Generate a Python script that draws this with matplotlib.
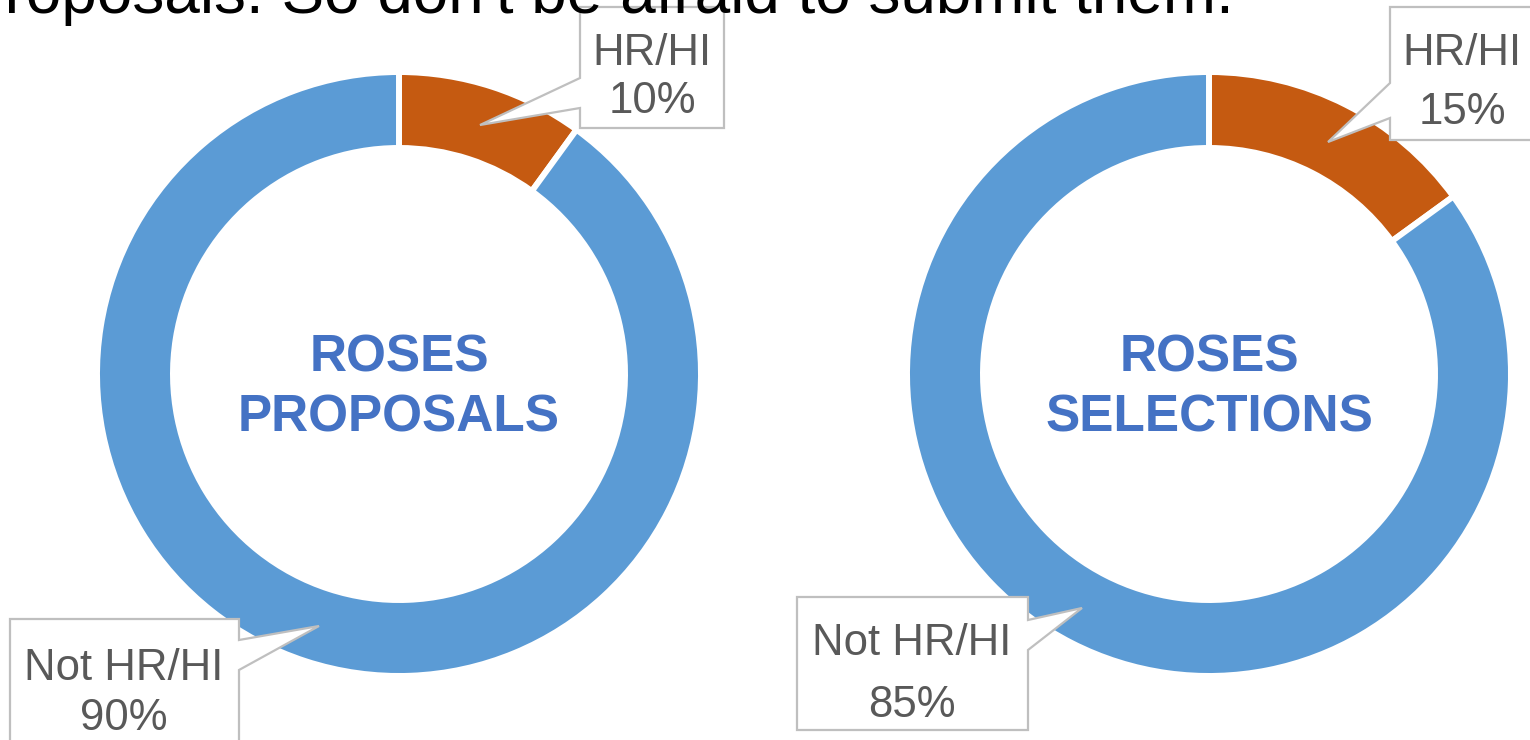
import matplotlib
matplotlib.use('Agg')
import matplotlib.pyplot as plt
from matplotlib.patches import Polygon

plt.rcParams['font.family'] = ['Liberation Sans', 'DejaVu Sans']

W, H = 1530, 740

# 数据
labels = ['HR/HI', 'Not HR/HI']
proposals = [10, 90]
selections = [15, 85]
titles = [('ROSES', 'PROPOSALS'), ('ROSES', 'SELECTIONS')]
colors = ['#C55A11', '#5B9BD5']

fig = plt.figure(figsize=(W / 100, H / 100), dpi=100)
ax = fig.add_axes([0, 0, 1, 1])

# 两个环形图 (像素坐标, y 向上)
centers = [(399, H - 374), (1209, H - 374)]
for vals, c, t in zip([proposals, selections], centers, titles):
    ax.pie(vals, colors=colors, startangle=90, counterclock=False,
           center=c, radius=302,
           wedgeprops=dict(width=76, edgecolor='white', linewidth=4.3))
    ax.text(c[0], H - 371, t[0], ha='center', va='baseline', fontsize=37,
            fontweight='bold', color='#4472C4')
    ax.text(c[0], H - 431, t[1], ha='center', va='baseline', fontsize=37,
            fontweight='bold', color='#4472C4')


# 标注框
def callout(left, right, top, bottom, side, p1, p2, tip):
    if side == 'left':
        pts = [(left, top), (right, top), (right, bottom), (left, bottom),
               (left, p2), tip, (left, p1)]
    else:
        pts = [(left, top), (right, top), (right, p1), tip, (right, p2),
               (right, bottom), (left, bottom)]
    pts = [(x, H - y) for x, y in pts]
    ax.add_patch(Polygon(pts, closed=True, facecolor='white',
                         edgecolor='#BFBFBF', linewidth=1.6, zorder=5))


callout(580, 724, 7, 128, 'left', 78, 108, (480, 125))
callout(10, 239, 619, 760, 'right', 640, 670, (319, 626))
callout(797, 1028, 597, 730, 'right', 620, 650, (1082, 608))
callout(1390, 1540, 7, 140, 'left', 83, 118, (1328, 142))

txt = dict(ha='center', va='baseline', fontsize=31.5, color='#595959', zorder=6)
ax.text(652, H - 65, labels[0], **txt)
ax.text(652, H - 113, f'{proposals[0]}%', **txt)
ax.text(124, H - 680, labels[1], **txt)
ax.text(124, H - 730, f'{proposals[1]}%', **txt)
ax.text(912, H - 655, labels[1], **txt)
ax.text(912, H - 717, f'{selections[1]}%', **txt)
ax.text(1462, H - 65, labels[0], **txt)
ax.text(1462, H - 124, f'{selections[0]}%', **txt)

# 顶部被截断的文字
ax.text(-38, H - 13, "Proposals. So don't be afraid to submit them.",
        ha='left', va='baseline', fontsize=46, color='black', zorder=7)

ax.set_xlim(0, W)
ax.set_ylim(0, H)
ax.set_aspect('equal', adjustable='box')
ax.axis('off')

fig.savefig('out.png', dpi=100, facecolor='white')
